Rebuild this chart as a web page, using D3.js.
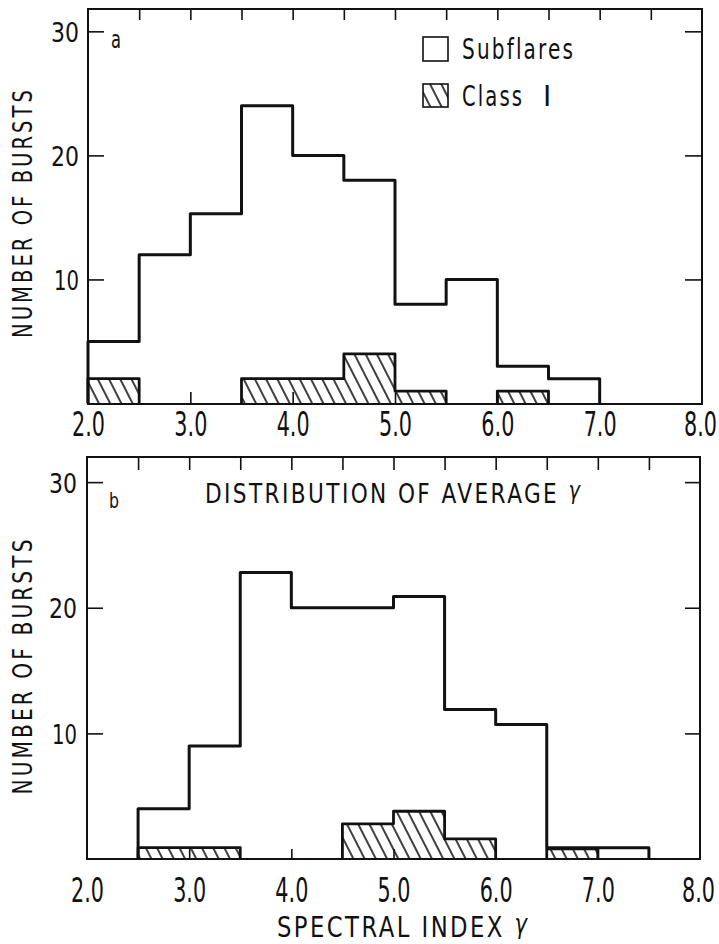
<!DOCTYPE html>
<html>
<head>
<meta charset="utf-8">
<script src="https://cdn.jsdelivr.net/npm/d3@7"></script>
<style>
  html, body { margin: 0; padding: 0; background: #fff; }
  svg { display: block; }
  text { font-family: "DejaVu Sans", "Liberation Sans", sans-serif; fill: #111; }
</style>
</head>
<body>
<svg id="chart" width="719" height="944"></svg>
<script>
// Histogram bin edges (spectral index gamma), bins 0.5 wide
const binEdges = [2.0, 2.5, 3.0, 3.5, 4.0, 4.5, 5.0, 5.5, 6.0, 6.5, 7.0, 7.5, 8.0];

// Panel a: number of bursts per bin
const subflaresA = [5, 12, 15.3, 24, 20, 18, 8, 10, 3, 2, 0, 0];
const classIA    = [2, 0, 0, 2, 2, 4, 1, 0, 1, 0, 0, 0];

// Panel b: distribution of average gamma
const subflaresB = [0, 4, 9, 22.8, 20, 20, 20.9, 11.9, 10.7, 0.9, 0.9, 0];
const classIB    = [0, 0.9, 0.9, 0, 0, 2.8, 3.8, 1.6, 0, 0.8, 0, 0];

// Axis ticks and labels
const xLabelValues = [2, 3, 4, 5, 6, 7, 8];
const xLabelText   = ["2.0", "3.0", "4.0", "5.0", "6.0", "7.0", "8.0"];
const xTopTicks    = [2.5, 3.0, 3.5, 4.0, 4.5, 5.0, 5.5, 6.0, 6.5, 7.0, 7.5];
const xBottomTicks = [3, 4, 5, 6, 7];
const yTickValues  = [10, 20, 30];
const yTickText    = ["10", "20", "30"];

const INK = "#111";
const svg = d3.select("#chart");

// Diagonal hatching for the Class I histogram
const defs = svg.append("defs");
const hatch = defs.append("pattern")
  .attr("id", "hatch")
  .attr("patternUnits", "userSpaceOnUse")
  .attr("width", 10).attr("height", 10)
  .attr("patternTransform", "rotate(-27)");
hatch.append("line")
  .attr("x1", 5).attr("y1", -1).attr("x2", 5).attr("y2", 11)
  .attr("stroke", "#000").attr("stroke-width", 1.5);

// Split a histogram into contiguous non-empty runs, each as a list of step vertices
function stepRuns(values) {
  const runs = [];
  let cur = null;
  values.forEach((v, i) => {
    const x0 = binEdges[i], x1 = binEdges[i + 1];
    if (v > 0) {
      if (!cur) { cur = [[x0, 0]]; }
      cur.push([x0, v], [x1, v]);
    } else if (cur) {
      cur.push([cur[cur.length - 1][0], 0]);
      runs.push(cur); cur = null;
    }
  });
  if (cur) { cur.push([cur[cur.length - 1][0], 0]); runs.push(cur); }
  return runs;
}

// Condensed, letter-spaced lettering: set the text, then squeeze it horizontally to a given width
function fitText(parent, o) {
  const g = parent.append("g")
    .attr("transform", `translate(${o.x},${o.y})` + (o.rotate ? ` rotate(${o.rotate})` : ""));
  const t = g.append("text")
    .attr("font-size", o.size)
    .attr("letter-spacing", o.spacing || 0);
  t.append("tspan").text(o.text);
  if (o.greek) {
    t.append("tspan").attr("font-style", "italic").attr("font-size", o.greekSize || o.size)
      .attr("dy", o.greekDy || 0).text(o.greek);
  }
  const w = t.node().getComputedTextLength() - (o.spacing || 0);
  const sx = o.len / w;
  const shift = o.anchor === "middle" ? -w / 2 : o.anchor === "end" ? -w : 0;
  t.attr("x", shift).attr("transform", `scale(${sx},1)`);
  return g;
}

// Squeeze axis tick labels horizontally to a target width, keeping their anchor point
function squeezeLabels(sel, widthOf, anchorX) {
  sel.each(function (d) {
    const t = d3.select(this);
    const w = this.getComputedTextLength();
    const sx = widthOf(d) / w;
    t.attr("x", anchorX(d) / sx).attr("transform", `scale(${sx},1)`);
  });
}

const panels = [
  {
    subflares: subflaresA, classI: classIA,
    left: 88, right: 702, top: 9, bottom: 404,
    yRange: [403.5, 9], yMax: 31.8,
    xLabelBaseline: 436, yLabelPad: 9,
    tickTop: 11, tickBottom: 12, tickLeft: 16, tickRight: 17,
    letter: { text: "a", x: 111, y: 48, size: 25, len: 10 },
    yTitle: { x: 32, y: 214, len: 248 }
  },
  {
    subflares: subflaresB, classI: classIB,
    left: 87, right: 700, top: 457, bottom: 859,
    yRange: [859, 457], yMax: 32,
    xLabelBaseline: 902, yLabelPad: 10,
    tickTop: 13, tickBottom: 10, tickLeft: 16, tickRight: 15,
    letter: { text: "b", x: 109, y: 508, size: 22, len: 10 },
    yTitle: { x: 32, y: 667, len: 255 }
  }
];

panels.forEach((p) => {
  const g = svg.append("g");
  const x = d3.scaleLinear().domain([2, 8]).range([p.left, p.right]);
  const y = d3.scaleLinear().domain([0, p.yMax]).range(p.yRange);

  // Class I: hatched fill then outline
  const area = d3.area().x(d => x(d[0])).y0(y(0)).y1(d => y(d[1]));
  const line = d3.line().x(d => x(d[0])).y(d => y(d[1]));
  stepRuns(p.classI).forEach(run => {
    g.append("path").attr("d", area(run)).attr("fill", "url(#hatch)");
    g.append("path").attr("d", line(run))
      .attr("fill", "none").attr("stroke", INK)
      .attr("stroke-width", 2.8).attr("stroke-linejoin", "round");
  });

  // Subflares: open outline
  stepRuns(p.subflares).forEach(run => {
    g.append("path").attr("d", line(run))
      .attr("fill", "none").attr("stroke", INK)
      .attr("stroke-width", 3).attr("stroke-linejoin", "round");
  });

  // Frame
  g.append("rect")
    .attr("x", p.left).attr("y", p.top)
    .attr("width", p.right - p.left).attr("height", p.bottom - p.top)
    .attr("fill", "none").attr("stroke", INK).attr("stroke-width", 2);

  const styleAxis = sel => {
    sel.select(".domain").remove();
    sel.selectAll(".tick line").attr("stroke", INK).attr("stroke-width", 1.6);
  };

  // Inward ticks on all four sides
  g.append("g").attr("transform", `translate(0,${p.top})`)
    .call(d3.axisTop(x).tickValues(xTopTicks).tickSizeInner(-p.tickTop).tickSizeOuter(0).tickFormat(""))
    .call(styleAxis);
  g.append("g").attr("transform", `translate(${p.right},0)`)
    .call(d3.axisRight(y).tickValues(yTickValues).tickSizeInner(-p.tickRight).tickSizeOuter(0).tickFormat(""))
    .call(styleAxis);
  g.append("g").attr("transform", `translate(0,${p.bottom})`)
    .call(d3.axisBottom(x).tickValues(xBottomTicks).tickSizeInner(-p.tickBottom).tickSizeOuter(0).tickFormat(""))
    .call(styleAxis);

  // Left axis with labels
  const yAxis = g.append("g").attr("transform", `translate(${p.left},0)`)
    .call(d3.axisLeft(y).tickValues(yTickValues).tickSizeInner(-p.tickLeft).tickSizeOuter(0)
      .tickPadding(p.yLabelPad).tickFormat((d, i) => yTickText[i]))
    .call(styleAxis);
  yAxis.attr("font-family", null).attr("font-size", null);
  yAxis.selectAll(".tick text")
    .attr("fill", INK).attr("font-size", 26)
    .attr("dy", null).attr("y", 10)
    .call(squeezeLabels, d => (d === 10 ? 25 : 28), () => -p.yLabelPad);

  // Bottom tick labels
  const xAxis = g.append("g").attr("transform", `translate(0,${p.bottom})`)
    .call(d3.axisBottom(x).tickValues(xLabelValues).tickSize(0)
      .tickFormat((d, i) => xLabelText[i]))
    .call(sel => sel.select(".domain").remove());
  xAxis.attr("font-family", null).attr("font-size", null);
  xAxis.selectAll(".tick text")
    .attr("fill", INK).attr("font-size", 34)
    .attr("dy", null).attr("y", p.xLabelBaseline - p.bottom)
    .call(squeezeLabels, () => 33, d => (d === 8 ? -2 : 0));

  // Y-axis title
  fitText(g, { text: "NUMBER OF BURSTS", x: p.yTitle.x, y: p.yTitle.y, size: 26, spacing: 4,
               len: p.yTitle.len, anchor: "middle", rotate: -90 });

  // Panel letter
  fitText(g, p.letter);
});

// Legend (panel a)
const legend = svg.append("g");
legend.append("rect").attr("x", 423).attr("y", 37).attr("width", 25).attr("height", 24)
  .attr("fill", "none").attr("stroke", INK).attr("stroke-width", 1.6);
legend.append("rect").attr("x", 423).attr("y", 84).attr("width", 25).attr("height", 23)
  .attr("fill", "url(#hatch)").attr("stroke", INK).attr("stroke-width", 1.6);
fitText(legend, { text: "Subflares", x: 462, y: 59, size: 28, spacing: 3, len: 111 });
fitText(legend, { text: "Class", x: 462, y: 106, size: 28, spacing: 3, len: 60 });
legend.append("text").attr("x", 543).attr("y", 106).attr("font-size", 28).text("I");

// Panel b heading
fitText(svg, { text: "DISTRIBUTION OF AVERAGE ", greek: "γ", greekSize: 24, greekDy: -4,
               x: 205, y: 503, size: 27, spacing: 3, len: 375 });

// X-axis title
fitText(svg, { text: "SPECTRAL INDEX ", greek: "γ", greekSize: 26, greekDy: -4,
               x: 277, y: 937, size: 28, spacing: 3, len: 250 });
</script>
</body>
</html>
